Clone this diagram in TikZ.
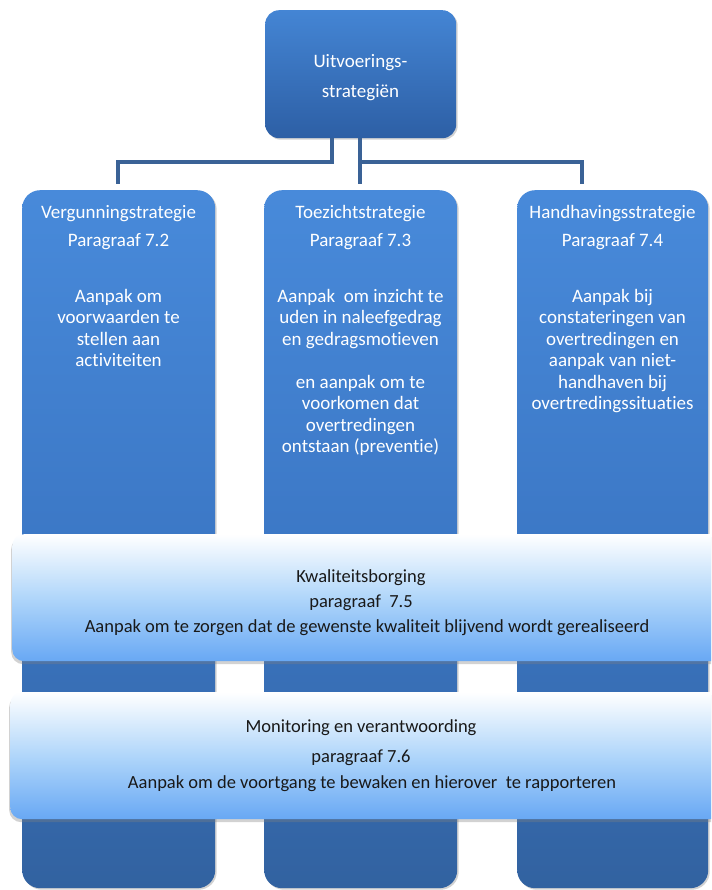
\documentclass[tikz,border=0pt]{standalone}
\usepackage{fontspec}
\setmainfont{Carlito}[RawFeature={-liga;-clig;-dlig}]
\usetikzlibrary{shadows,positioning}
\definecolor{colTop}{RGB}{72,138,218}
\definecolor{colMid}{RGB}{60,120,198}
\definecolor{colBot}{RGB}{50,98,160}
\definecolor{boxTop}{RGB}{68,133,212}
\definecolor{boxBot}{RGB}{45,95,165}
\definecolor{bandBot}{RGB}{104,168,244}
\definecolor{bandMid}{RGB}{176,214,250}
\definecolor{lineBlue}{RGB}{58,98,150}
\definecolor{txtDark}{RGB}{25,25,25}
\tikzset{
  colbox/.style={draw=none, rounded corners=18pt, top color=colTop, bottom color=colBot, middle color=colMid,
    drop shadow={shadow xshift=1.5pt, shadow yshift=-1.5pt, opacity=0.35}},
  topbox/.style={draw=none, rounded corners=14pt, top color=boxTop, bottom color=boxBot,
    drop shadow={shadow xshift=1.5pt, shadow yshift=-1.5pt, opacity=0.35}},
  band/.style={draw=none, rounded corners=12pt, top color=white, bottom color=bandBot, middle color=bandMid,
    drop shadow={shadow xshift=-1pt, shadow yshift=-3pt, opacity=0.35}},
  wtxt/.style={text=white, font=\fontsize{19}{21.5}\selectfont, align=center, inner sep=0pt, anchor=north},
  ttxt/.style={text=white, font=\fontsize{19}{28}\selectfont, align=center, inner sep=0pt, anchor=north},
  btxt/.style={text=txtDark, font=\fontsize{18.5}{20}\selectfont, align=center, inner sep=0pt},
  conn/.style={draw=lineBlue, line width=4pt}
}
\begin{document}
\begin{tikzpicture}[x=1pt,y=-1pt]
\useasboundingbox (0,0) rectangle (711,890);
\clip (0,0) rectangle (711,890);
\fill[white] (0,0) rectangle (711,890);
% top box
\node[topbox, minimum width=191pt, minimum height=128pt, anchor=north west] (top) at (265,10) {};
\node[wtxt, anchor=center, font=\fontsize{19}{30}\selectfont] (toptxt) at (360.5,77.5) {Uitvoerings-\\strategiën};
% columns
\node[colbox, minimum width=193pt, minimum height=698pt, anchor=north west] (c1) at (22,190) {};
\node[colbox, minimum width=193pt, minimum height=698pt, anchor=north west] (c2) at (264,190) {};
\node[colbox, minimum width=191pt, minimum height=698pt, anchor=north west] (c3) at (517,190) {};
% connectors
\coordinate (tl) at (332,138);
\coordinate (tm) at (360,138);
\coordinate (j1) at (332,162);
\coordinate (j2) at (360,162);
\coordinate (e1) at (118,184);
\coordinate (e2) at (360,184);
\coordinate (e3) at (582,184);
\draw[conn] (tl) -- (j1) -| (e1);
\draw[conn] (tm) -- (e2);
\draw[conn] (j2) -| (e3);
% column texts
\node[ttxt] (t1a) at (118.5,205) {Vergunningstrategie\\Paragraaf 7.2};
\node[wtxt] (t1b) at (118.5,289) {Aanpak om\\voorwaarden te\\stellen aan\\activiteiten};
\node[ttxt] (t2a) at (360.5,205) {Toezichtstrategie\\Paragraaf 7.3};
\node[wtxt] (t2b) at (360.5,289) {Aanpak\ \ om inzicht te\\uden in naleefgedrag\\en gedragsmotieven};
\node[wtxt] (t2c) at (360.5,375) {en aanpak om te\\voorkomen dat\\overtredingen\\ontstaan (preventie)};
\node[ttxt] (t3a) at (612.5,205) {Handhavingsstrategie\\Paragraaf 7.4};
\node[wtxt] (t3b) at (612.5,289) {Aanpak bij\\constateringen van\\overtredingen en\\aanpak van niet-\\handhaven bij\\overtredingssituaties};
% bands
\node[band, minimum width=715pt, minimum height=127pt, anchor=north west] (b1) at (12,534) {};
\node[btxt] (b1a) at (361,578) {Kwaliteitsborging};
\node[btxt] (b1b) at (361,603) {paragraaf\ \ 7.5};
\node[btxt] (b1c) at (367,628) {Aanpak om te zorgen dat de gewenste kwaliteit blijvend wordt gerealiseerd};
\node[band, minimum width=717pt, minimum height=127pt, anchor=north west] (b2) at (10,692) {};
\node[btxt] (b2a) at (361,728) {Monitoring en verantwoording};
\node[btxt] (b2b) at (361,758) {paragraaf 7.6};
\node[btxt] (b2c) at (372,784) {Aanpak om de voortgang te bewaken en hierover\ \ te rapporteren};
\end{tikzpicture}
\end{document}
